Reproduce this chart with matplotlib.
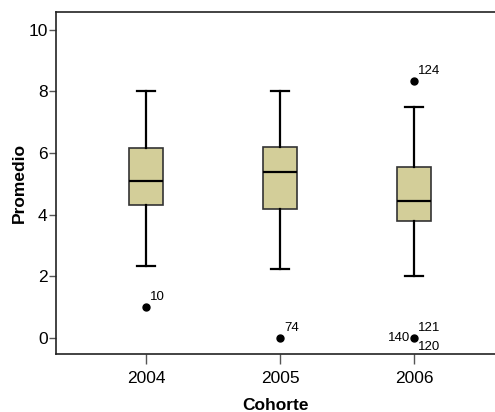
import matplotlib.pyplot as plt

plt.rcParams['font.family'] = ['Liberation Sans', 'DejaVu Sans']

# Data
cohorts = ['2004', '2005', '2006']
whisk_low = [2.33, 2.25, 2.0]
q1 = [4.3, 4.2, 3.8]
medians = [5.1, 5.4, 4.45]
q3 = [6.18, 6.2, 5.55]
whisk_high = [8.0, 8.0, 7.5]
outlier_vals = [[1.0], [0.0], [8.33, 0.0]]
outlier_ids = [['10'], ['74'], ['124', '121']]

stats = []
for i in range(len(cohorts)):
    stats.append({'whislo': whisk_low[i], 'q1': q1[i], 'med': medians[i],
                  'q3': q3[i], 'whishi': whisk_high[i], 'fliers': []})

fig = plt.figure(figsize=(4.95, 4.12), dpi=100)
ax = fig.add_axes([56 / 495, 58 / 412, 1 - 56 / 495, (354 - 12) / 412])

pos = list(range(len(cohorts)))
ax.bxp(stats, positions=pos, widths=0.25, patch_artist=True,
       boxprops=dict(facecolor='#d3ce99', edgecolor='#333333', linewidth=1.2),
       medianprops=dict(color='black', linewidth=1.6),
       whiskerprops=dict(color='black', linewidth=1.6),
       capprops=dict(color='black', linewidth=1.6),
       capwidths=0.13, showfliers=False)

# outliers with case labels
for i, vals in enumerate(outlier_vals):
    for v, lab in zip(vals, outlier_ids[i]):
        ax.plot(i, v, 'o', color='black', markersize=5)
        ax.annotate(lab, (i, v), xytext=(3, 3), textcoords='offset points',
                    fontsize=9.5, ha='left', va='bottom')
# extra labels on the 2006 zero outlier
ax.annotate('140', (2, 0.0), xytext=(-3, 0), textcoords='offset points',
            fontsize=9.5, ha='right', va='center')
ax.annotate('120', (2, 0.0), xytext=(3, -2), textcoords='offset points',
            fontsize=9.5, ha='left', va='top')

ax.set_xlim(-0.672, 2.604)
ax.set_ylim(-0.52, 10.58)
ax.set_yticks([0, 2, 4, 6, 8, 10])
ax.set_xticks(pos)
ax.set_xticklabels(cohorts)
ax.tick_params(axis='y', length=5, width=1, labelsize=12.5, pad=1, color='#555555')
ax.tick_params(axis='x', length=7, width=1, labelsize=12.5, pad=5, color='#555555')
ax.spines['right'].set_visible(False)
for s in ['left', 'top', 'bottom']:
    ax.spines[s].set_color('#222222')
    ax.spines[s].set_linewidth(1.2)

ax.set_xlabel('Cohorte', fontsize=12.5, fontweight='bold', labelpad=9)
ax.set_ylabel('Promedio', fontsize=12.5, fontweight='bold', labelpad=1)

fig.savefig('out.png', dpi=100)
